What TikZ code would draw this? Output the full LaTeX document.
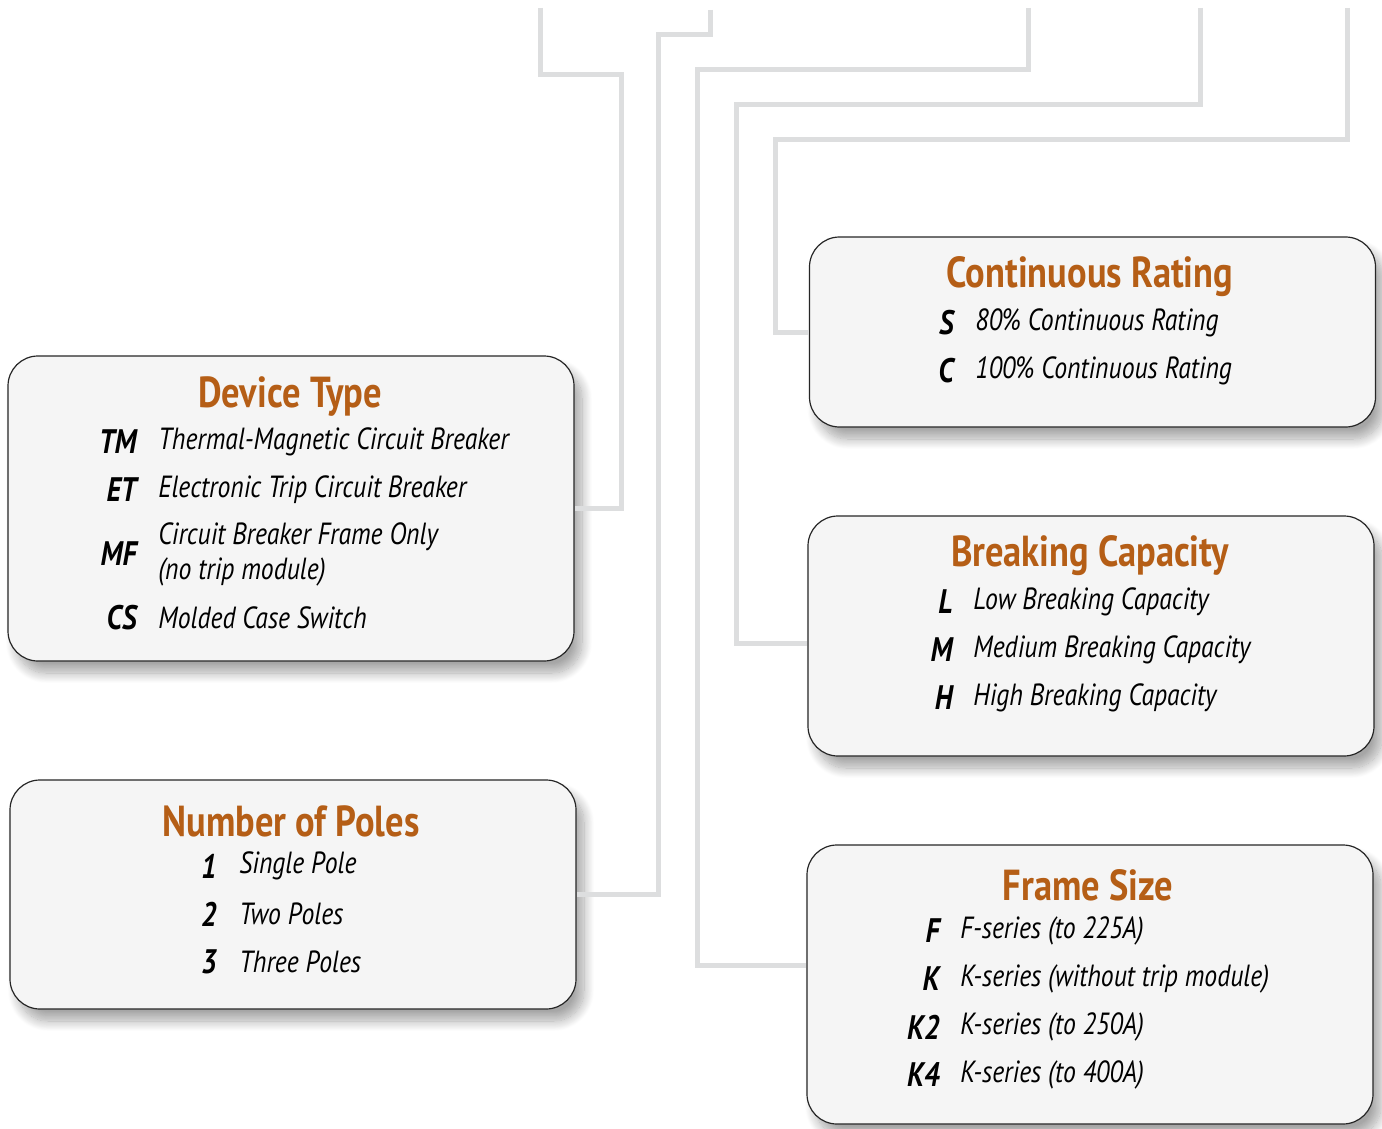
\documentclass[tikz,border=0pt]{standalone}
\usepackage{fontspec}
\setmainfont{PT Sans}[FakeStretch=0.84]
\usepackage{tikz}
\usetikzlibrary{
    positioning,
    calc,
    shadows.blur
}
\definecolor{titleOrange}{RGB}{181, 94, 22}
\definecolor{wireGray}{RGB}{221, 222, 223}
\definecolor{boxFill}{RGB}{245, 245, 245}

\tikzset{
    infobox/.style={draw=black!85, line width=0.6pt, fill=boxFill,
        rounded corners=15pt, minimum width=283pt, inner sep=0pt,
        blur shadow={shadow xshift=4pt, shadow yshift=-6pt,
            shadow opacity=35, shadow blur radius=5pt, shadow blur steps=14}},
    boxtitle/.style={inner sep=0pt, font=\fontsize{21.7}{24}\selectfont\bfseries, text=titleOrange},
    code/.style={anchor=east, inner sep=0pt, font=\fontsize{17}{20}\selectfont\bfseries\itshape},
    desc/.style={anchor=west, inner sep=0pt, align=left, font=\fontsize{15.3}{17.5}\selectfont\itshape},
    wire/.style={wireGray, line width=2.5pt}
}

\begin{document}
\begin{tikzpicture}[x=0.5pt, y=-0.5pt]
    \useasboundingbox (0,0) rectangle (1382,1129);

    % boxes
    \node[infobox, minimum height=152.5pt] (devtype) at (291, 508.5) {};
    \node[infobox, minimum height=114.5pt] (poles) at (293, 894.5) {};
    \node[infobox, minimum height=95pt] (contrating) at (1092.5, 332) {};
    \node[infobox, minimum height=120pt] (breaking) at (1091, 636) {};
    \node[infobox, minimum height=139.5pt] (framesize) at (1090, 984.5) {};

    % wires from the top
    \coordinate (a0) at (540, 8);
    \coordinate (a1) at (621, 75);
    \coordinate (b0) at (710, 10);
    \coordinate (b1) at (658, 35);
    \coordinate (c0) at (1028, 8);
    \coordinate (c1) at (697, 70);
    \coordinate (c2) at (697, 965);
    \coordinate (d0) at (1200, 8);
    \coordinate (d1) at (736, 105);
    \coordinate (d2) at (736, 643);
    \coordinate (e0) at (1347, 8);
    \coordinate (e1) at (775, 140);

    \draw[wire] (a0) |- (a1) |- (devtype.east);
    \draw[wire] (b0) |- (b1) |- (poles.east);
    \draw[wire] (c0) |- (c1) -- (c2) -- (c2 -| framesize.west);
    \draw[wire] (d0) |- (d1) -- (d2) -- (d2 -| breaking.west);
    \draw[wire] (e0) |- (e1) |- (contrating.west);

    % Device Type
    \node[boxtitle] (devtype-t) at (290, 397) {Device Type};
    \foreach \c/\d/\y [count=\i] in {TM/Thermal-Magnetic Circuit Breaker/442,
            ET/Electronic Trip Circuit Breaker/490,
            MF/{Circuit Breaker Frame Only\\(no trip module)}/554,
            CS/Molded Case Switch/618} {
        \node[code] (devtype-c\i) at (137, \y) {\c};
        \node[desc] (devtype-d\i) at (158, \y) {\d};
    }

    % Number of Poles
    \node[boxtitle] (poles-t) at (291, 821) {Number of Poles};
    \foreach \c/\d/\y [count=\i] in {1/Single Pole/866, 2/Two Poles/914, 3/Three Poles/962} {
        \node[code] (poles-c\i) at (217, \y) {\c};
        \node[desc] (poles-d\i) at (239, \y) {\d};
    }

    % Continuous Rating
    \node[boxtitle] (contrating-t) at (1090, 277) {Continuous Rating};
    \foreach \c/\d/\y [count=\i] in {S/80\% Continuous Rating/323, C/100\% Continuous Rating/371} {
        \node[code] (contrating-c\i) at (954, \y) {\c};
        \node[desc] (contrating-d\i) at (975, \y) {\d};
    }

    % Breaking Capacity
    \node[boxtitle] (breaking-t) at (1090, 556) {Breaking Capacity};
    \foreach \c/\d/\y [count=\i] in {L/Low Breaking Capacity/602,
            M/Medium Breaking Capacity/650, H/High Breaking Capacity/698} {
        \node[code] (breaking-c\i) at (953, \y) {\c};
        \node[desc] (breaking-d\i) at (973, \y) {\d};
    }

    % Frame Size
    \node[boxtitle] (framesize-t) at (1088, 885) {Frame Size};
    \foreach \c/\d/\y [count=\i] in {F/F-series (to 225A)/931,
            K/K-series (without trip module)/979,
            K2/K-series (to 250A)/1027, K4/K-series (to 400A)/1075} {
        \node[code] (framesize-c\i) at (940, \y) {\c};
        \node[desc] (framesize-d\i) at (960, \y) {\d};
    }
\end{tikzpicture}
\end{document}
